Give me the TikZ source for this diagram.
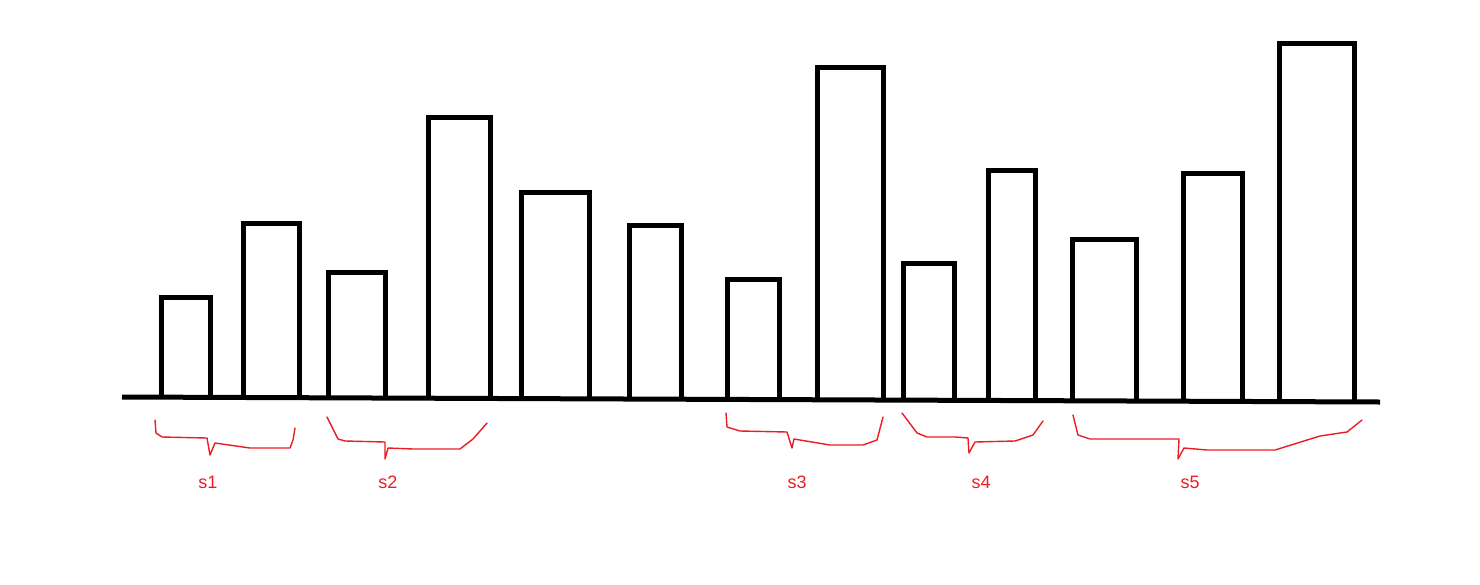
\documentclass[tikz,border=0pt]{standalone}
\usepackage{fontspec}
\newfontfamily\labelfont{Liberation Sans}
\definecolor{markred}{RGB}{237,28,36}
\tikzset{
  bar/.style = {line width = 5pt, line join = miter},
  brace/.style = {draw = markred, line width = 1.4pt, line join = round, line cap = round},
  slabel/.style = {text = markred, font = \labelfont\fontsize{18}{18}\selectfont, inner sep = 0pt}
}
\begin{document}
\begin{tikzpicture}[x = 1pt, y = -1pt]
\useasboundingbox (0, 0) rectangle (1480, 584);

% ground line
\coordinate (L) at (122, 397);
\coordinate (R) at (1380, 402);
\draw[line width = 5pt] (L) -- (R);

% bars: left/right/top
\foreach \l/\r/\t in {161/210/297, 243/299/223, 328/385/272, 428/490/117,
                      521/589/192, 629/681/225, 727/779/279, 817/883/67,
                      903/954/263, 988/1035/170, 1072/1136/239, 1183/1242/173,
                      1279/1354/43}{
  \pgfmathsetmacro{\b}{397 + 5*(\l - 122)/1258};
  \draw[bar] (\l, \b) -- (\l, \t) -- (\r, \t) -- (\r, \b);
}

% hand drawn braces
\draw[brace] (155, 420) -- (156, 433) -- (162, 437) -- (207, 438) -- (210, 455)
  -- (215, 443) -- (250, 448) -- (290, 448) -- (293, 440) -- (295, 428);
\draw[brace] (327, 417) -- (338, 439) -- (345, 441) -- (385, 442) -- (385, 459)
  -- (388, 448) -- (413, 449) -- (460, 449) -- (473, 439) -- (487, 423);
\draw[brace] (726, 413) -- (727, 427) -- (740, 431) -- (787, 432) -- (792, 448)
  -- (794, 439) -- (830, 445) -- (863, 445) -- (877, 440) -- (883, 417);
\draw[brace] (902, 413) -- (917, 433) -- (927, 437) -- (955, 437) -- (968, 438)
  -- (969, 453) -- (975, 442) -- (1015, 441) -- (1033, 435) -- (1043, 421);
\draw[brace] (1073, 415) -- (1078, 435) -- (1090, 439) -- (1179, 439) -- (1178, 459)
  -- (1184, 448) -- (1207, 450) -- (1275, 450) -- (1320, 436) -- (1347, 432) -- (1362, 420);

% labels
\node[slabel] (s1) at (208, 482) {s1};
\node[slabel] (s2) at (388, 482) {s2};
\node[slabel] (s3) at (797, 482) {s3};
\node[slabel] (s4) at (981, 482) {s4};
\node[slabel] (s5) at (1190, 482) {s5};
\end{tikzpicture}
\end{document}
